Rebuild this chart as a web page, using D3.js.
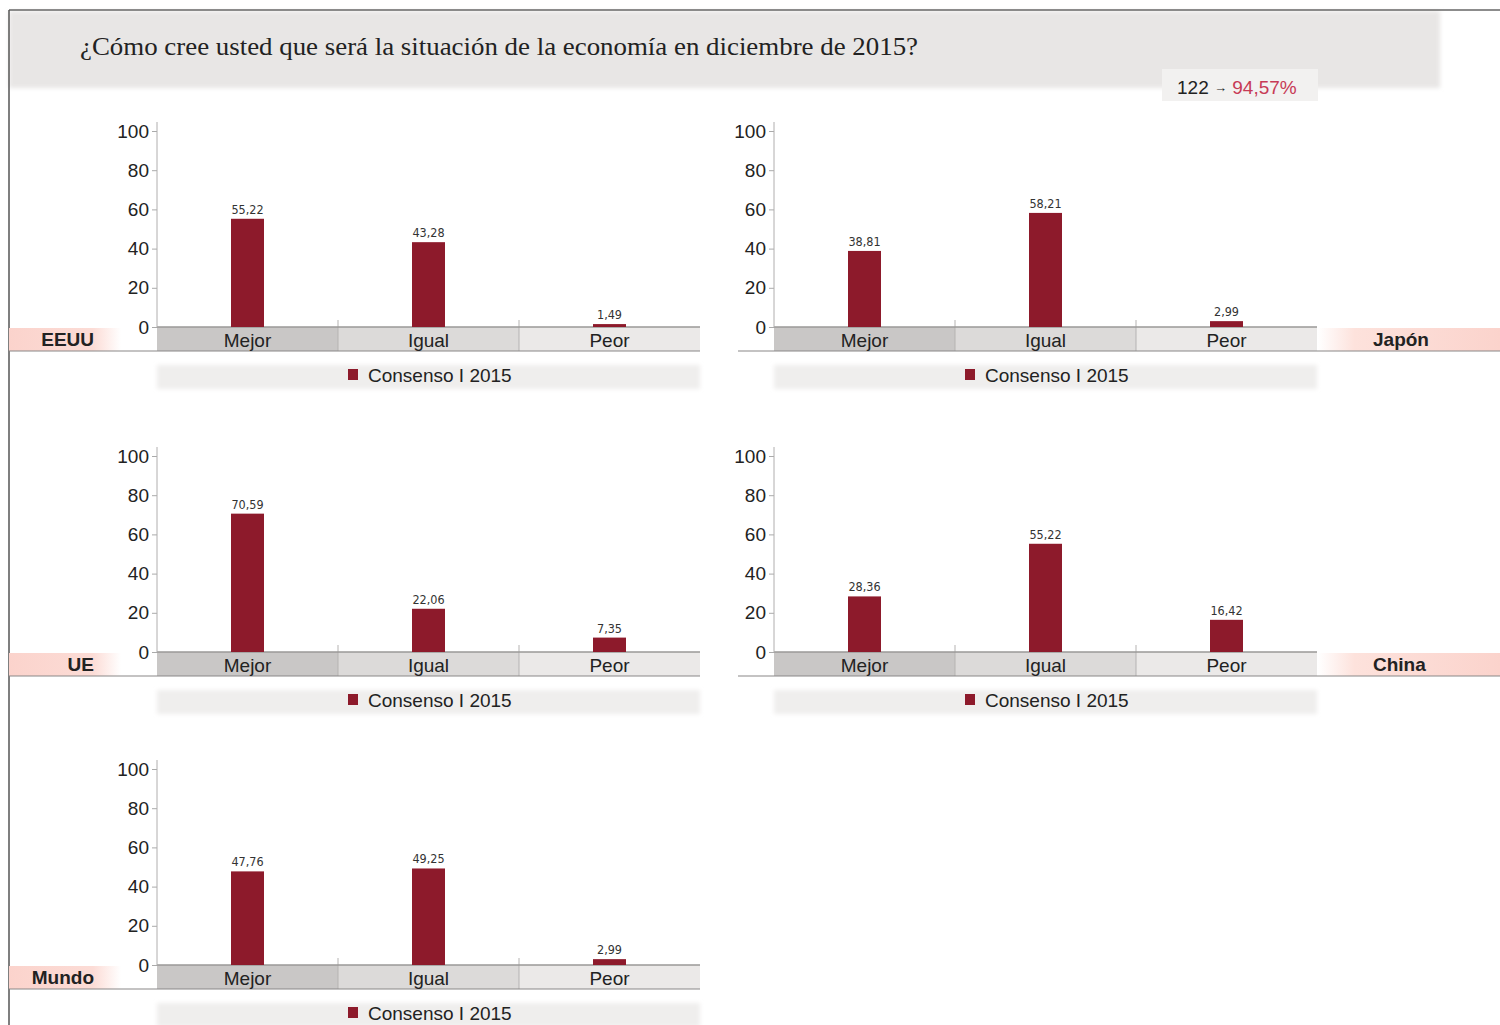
<!DOCTYPE html>
<html>
<head>
<meta charset="utf-8">
<script src="https://cdn.jsdelivr.net/npm/d3@7"></script>
<style>
  body { margin: 0; background: #fff; }
  text { font-family: 'Liberation Sans', Arial, sans-serif; }
</style>
</head>
<body>
<div id="chart"></div>
<script>
// data
const categories = ['Mejor', 'Igual', 'Peor'];
const regions = ['EEUU', 'Japón', 'UE', 'China', 'Mundo'];
const eeuu = [55.22, 43.28, 1.49];
const japon = [38.81, 58.21, 2.99];
const ue = [70.59, 22.06, 7.35];
const china = [28.36, 55.22, 16.42];
const mundo = [47.76, 49.25, 2.99];
const yTicks = [0, 20, 40, 60, 80, 100];
const seriesName = 'Consenso I 2015';
const title = '¿Cómo cree usted que será la situación de la economía en diciembre de 2015?';
const respondents = '122';
const rate = '94,57%';

const values = [eeuu, japon, ue, china, mundo];

const chart = () => {
  const width = 1500;
  const height = 1025;
  const barColor = '#8d1a2b';
  const bandColors = ['#c9c7c6', '#dcdad9', '#ebe9e8'];
  const plotW = 543;
  const plotH = 196;
  // panel placement: left edge of axis, y of zero line, side of region label
  const layout = [
    {x: 157, y: 327, side: 'left'},
    {x: 774, y: 327, side: 'right'},
    {x: 157, y: 652, side: 'left'},
    {x: 774, y: 652, side: 'right'},
    {x: 157, y: 965, side: 'left'}
  ];
  const comma = d3.formatLocale({decimal: ',', thousands: '.', grouping: [3], currency: ['', '']}).format('.2f');

  const svg = d3.select('#chart')
    .append('svg')
    .attr('width', width)
    .attr('height', height);

  const defs = svg.append('defs');
  defs.append('filter')
    .attr('id', 'soft')
    .attr('x', '-5%').attr('y', '-20%').attr('width', '110%').attr('height', '140%')
    .append('feGaussianBlur')
    .attr('stdDeviation', 2);
  const pinkL = defs.append('linearGradient').attr('id', 'pinkL');
  pinkL.append('stop').attr('offset', '0%').attr('stop-color', '#fbd3cc');
  pinkL.append('stop').attr('offset', '75%').attr('stop-color', '#fcdcd6');
  pinkL.append('stop').attr('offset', '100%').attr('stop-color', '#ffffff');
  const pinkR = defs.append('linearGradient').attr('id', 'pinkR');
  pinkR.append('stop').attr('offset', '0%').attr('stop-color', '#ffffff');
  pinkR.append('stop').attr('offset', '20%').attr('stop-color', '#fde2dc');
  pinkR.append('stop').attr('offset', '100%').attr('stop-color', '#fbd3cc');

  // header
  svg.append('rect')
    .attr('x', 9).attr('y', 11)
    .attr('width', 1431).attr('height', 77)
    .attr('fill', '#e8e6e5')
    .attr('filter', 'url(#soft)');
  svg.append('rect')
    .attr('x', 1162).attr('y', 69)
    .attr('width', 156).attr('height', 32)
    .attr('fill', '#f2f1f0');
  svg.append('line')
    .attr('x1', 9).attr('x2', width)
    .attr('y1', 10).attr('y2', 10)
    .attr('stroke', '#666').attr('stroke-width', 1.5);
  svg.append('line')
    .attr('x1', 9).attr('x2', 9)
    .attr('y1', 10).attr('y2', height)
    .attr('stroke', '#555').attr('stroke-width', 1.5);
  svg.append('text')
    .attr('x', 80).attr('y', 55)
    .attr('textLength', 838)
    .attr('lengthAdjust', 'spacingAndGlyphs')
    .style('font-family', "'Liberation Serif', 'DejaVu Serif', serif")
    .style('font-size', '25px')
    .attr('fill', '#222')
    .text(title);
  const note = svg.append('text')
    .attr('x', 1177).attr('y', 94)
    .style('font-size', '19px')
    .attr('fill', '#222');
  note.append('tspan').text(respondents + ' ');
  note.append('tspan').style('font-size', '13px').attr('dy', -2).text('→');
  note.append('tspan').attr('dy', 2).attr('fill', '#c73a56').text(' ' + rate);

  const x = d3.scaleBand().domain(categories).range([0, plotW]);
  const y = d3.scaleLinear().domain([0, 100]).range([plotH, 0]);
  const barW = 33;

  regions.forEach((name, i) => {
    const pos = layout[i];
    const g = svg.append('g')
      .attr('transform', `translate(${pos.x},${pos.y - plotH})`);

    // region label strip
    if (pos.side === 'left') {
      g.append('rect')
        .attr('x', 9 - pos.x).attr('y', plotH + 1)
        .attr('width', 112).attr('height', 23)
        .attr('fill', 'url(#pinkL)');
      g.append('text')
        .attr('x', 94 - pos.x).attr('y', plotH + 19)
        .attr('text-anchor', 'end')
        .style('font-size', '19px')
        .style('font-weight', 'bold')
        .attr('fill', '#222')
        .text(name);
    } else {
      g.append('rect')
        .attr('x', plotW + 1).attr('y', plotH + 1)
        .attr('width', width - pos.x - plotW).attr('height', 23)
        .attr('fill', 'url(#pinkR)');
      g.append('text')
        .attr('x', 1373 - pos.x).attr('y', plotH + 19)
        .style('font-size', '19px')
        .style('font-weight', 'bold')
        .attr('fill', '#222')
        .text(name);
    }

    // category band
    g.selectAll('rect.band')
      .data(categories)
      .join('rect')
      .attr('class', 'band')
      .attr('x', d => x(d))
      .attr('y', plotH)
      .attr('width', x.bandwidth())
      .attr('height', 24)
      .attr('fill', (d, j) => bandColors[j]);
    g.selectAll('line.sep')
      .data(categories.slice(1))
      .join('line')
      .attr('class', 'sep')
      .attr('x1', d => x(d)).attr('x2', d => x(d))
      .attr('y1', plotH - 7).attr('y2', plotH + 24)
      .attr('stroke', '#b5b3b2');
    g.append('line')
      .attr('x1', 0).attr('x2', plotW)
      .attr('y1', plotH).attr('y2', plotH)
      .attr('stroke', '#9a9897').attr('stroke-width', 1.5);
    g.append('line')
      .attr('x1', pos.side === 'left' ? 9 - pos.x : 738 - pos.x)
      .attr('x2', pos.side === 'left' ? plotW : width - pos.x)
      .attr('y1', plotH + 24).attr('y2', plotH + 24)
      .attr('stroke', '#8a8887').attr('stroke-width', 1.2);
    g.selectAll('text.cat')
      .data(categories)
      .join('text')
      .attr('class', 'cat')
      .attr('x', d => x(d) + x.bandwidth() / 2)
      .attr('y', plotH + 20)
      .attr('text-anchor', 'middle')
      .style('font-size', '19px')
      .attr('fill', '#222')
      .text(d => d);

    // y axis
    const axis = g.append('g')
      .call(d3.axisLeft(y).tickValues(yTicks).tickSize(5).tickPadding(3));
    axis.select('.domain').remove();
    axis.selectAll('line').attr('stroke', '#aaa');
    axis.selectAll('text')
      .style('font-size', '19px')
      .style('font-family', "'Liberation Sans', Arial, sans-serif")
      .attr('fill', '#222');
    g.append('line')
      .attr('x1', 0).attr('x2', 0)
      .attr('y1', -9).attr('y2', plotH)
      .attr('stroke', '#b0aeae');

    // bars
    const data = categories.map((c, j) => ({cat: c, value: values[i][j]}));
    g.selectAll('rect.bar')
      .data(data)
      .join('rect')
      .attr('class', 'bar')
      .attr('x', d => x(d.cat) + x.bandwidth() / 2 - barW / 2)
      .attr('y', d => y(d.value))
      .attr('width', barW)
      .attr('height', d => plotH - y(d.value))
      .attr('fill', barColor);
    g.selectAll('text.val')
      .data(data)
      .join('text')
      .attr('class', 'val')
      .attr('x', d => x(d.cat) + x.bandwidth() / 2)
      .attr('y', d => y(d.value) - 5)
      .attr('text-anchor', 'middle')
      .style('font-family', "'Liberation Sans Narrow', 'DejaVu Sans Condensed', sans-serif")
      .style('font-size', '12.5px')
      .attr('fill', '#333')
      .text(d => comma(d.value));

    // legend
    g.append('rect')
      .attr('x', 0).attr('y', plotH + 38)
      .attr('width', plotW).attr('height', 24)
      .attr('fill', '#efeeed')
      .attr('filter', 'url(#soft)');
    g.append('rect')
      .attr('x', 191).attr('y', plotH + 42)
      .attr('width', 10).attr('height', 11)
      .attr('fill', barColor);
    g.append('text')
      .attr('x', 211).attr('y', plotH + 55)
      .style('font-size', '19px')
      .attr('fill', '#222')
      .text(seriesName);
  });
};

chart();
</script>
</body>
</html>
